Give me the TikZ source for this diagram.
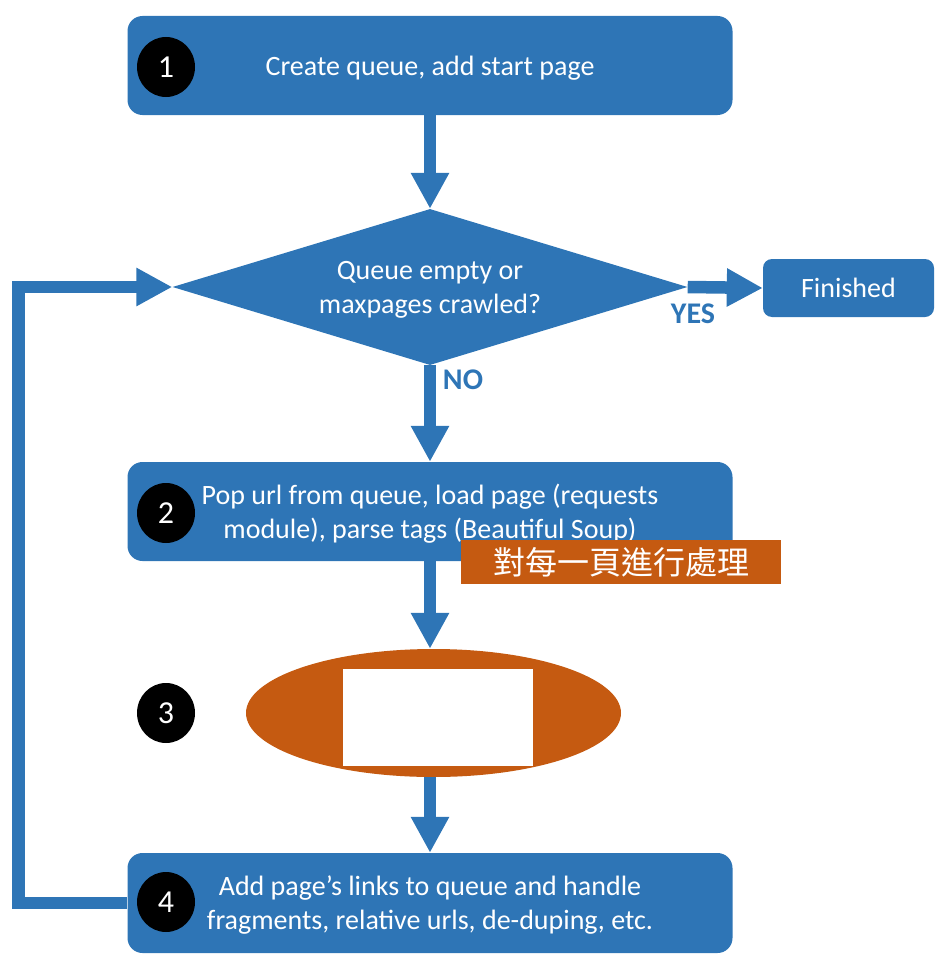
\documentclass[tikz,border=0pt]{standalone}
\usepackage{fontspec}
\setmainfont{Carlito}
\newfontfamily\cjkfont{Noto Sans CJK TC}
\usetikzlibrary{arrows.meta,shapes.geometric}
\definecolor{fblue}{HTML}{2E75B6}
\definecolor{forange}{HTML}{C55A11}
\tikzset{
  box/.style={rectangle, rounded corners=15pt, fill=fblue, text=white, minimum width=605pt, minimum height=99pt, inner sep=0pt, align=center, text depth=0pt, font=\fontsize{28}{34}\selectfont},
  num/.style={ellipse, fill=black, text=white, minimum width=58pt, minimum height=60pt, inner sep=0pt, font=\fontsize{32}{34}\selectfont},
  flow/.style={draw=fblue, line width=12.5pt, line join=miter, -{Triangle[width=36pt,length=36pt]}},
  lbl/.style={text=fblue, font=\bfseries\fontsize{30}{34}\selectfont, inner sep=0pt}
}
\begin{document}
\begin{tikzpicture}[x=1pt,y=-1pt]
\useasboundingbox (0,0) rectangle (944,966);
% boxes
\node[box] (b1) at (430,65.5) {Create queue, add start page};
\node[diamond, aspect=3.3, fill=fblue, text=white, minimum width=515pt, minimum height=156pt, inner sep=0pt, align=center, text depth=0pt, font=\fontsize{28}{34}\selectfont] (dia) at (430,287) {Queue empty or\\maxpages crawled?};
\node[rectangle, rounded corners=9pt, fill=fblue, text=white, minimum width=171pt, minimum height=58pt, inner sep=0pt, font=\fontsize{28}{34}\selectfont] (fin) at (848.5,288) {Finished};
\node[box] (b2) at (430,511.5) {Pop url from queue, load page (requests\\module), parse tags (Beautiful Soup)};
\node[ellipse, fill=forange, minimum width=375pt, minimum height=128pt, inner sep=0pt] (ell) at (433.5,713) {};
\node[rectangle, fill=white, minimum width=190pt, minimum height=97pt, inner sep=0pt] (wr) at (438,717.5) {};
\node[box, minimum height=100pt] (b4) at (430,903) {Add page’s links to queue and handle\\fragments, relative urls, de-duping, etc.};
\node[rectangle, fill=forange, text=white, minimum width=320pt, minimum height=44pt, inner sep=0pt, font=\cjkfont\fontsize{32}{34}\selectfont] (lab) at (621,562) {對每一頁進行處理};
% number circles
\node[num] (c1) at (166,67) {1};
\node[num] (c2) at (166,513) {2};
\node[num] (c3) at (166,713) {3};
\node[num] (c4) at (166,902) {4};
% labels
\node[lbl] (yes) at (693,314) {YES};
\node[lbl] (no) at (463,380) {NO};
% connectors
\draw[flow] (b1.south) -- (dia.north);
\draw[flow] (dia.east) -- (fin.west);
\draw[flow] (dia.south) -- (b2.north);
\draw[flow] (b2.south) -- (b2.south |- ell.north);
\draw[flow] (b2.south |- ell.south) -- (b4.north);
\draw[flow] (b4.west) -- ++(-109,0) |- (dia.west);
\end{tikzpicture}
\end{document}
